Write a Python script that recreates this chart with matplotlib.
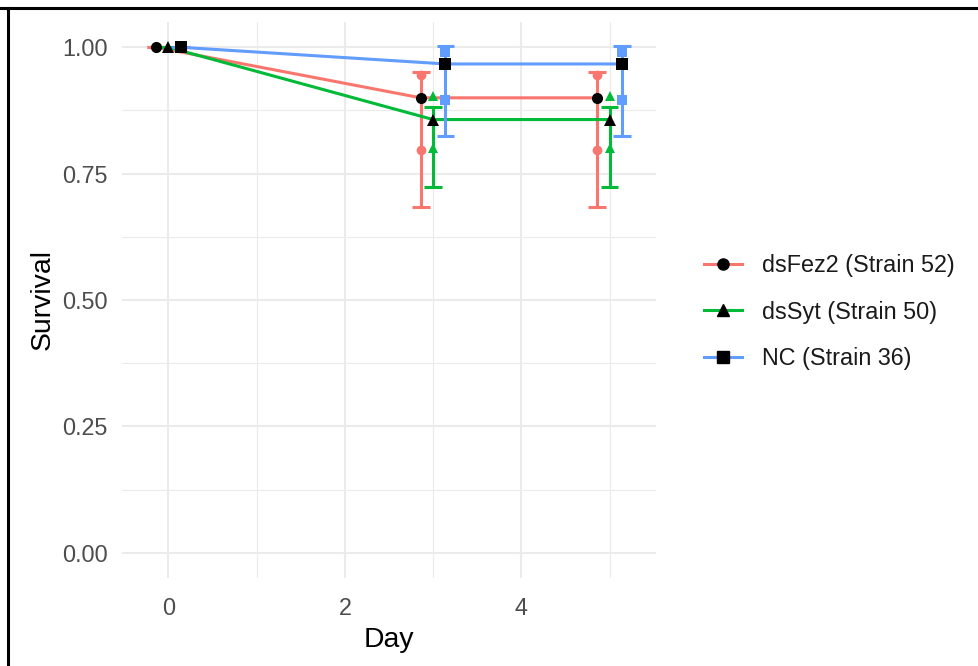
import matplotlib
matplotlib.use("Agg")
import matplotlib.pyplot as plt
from matplotlib.lines import Line2D
import numpy as np

plt.rcParams['font.family'] = ['Liberation Sans', 'DejaVu Sans']

# ---- data ----
days = [0, 3, 5]
series = ["dsFez2 (Strain 52)", "dsSyt (Strain 50)", "NC (Strain 36)"]
colors = ["#F8766D", "#00BA38", "#619CFF"]
shapes = ["o", "^", "s"]
mean_surv = {
    "dsFez2 (Strain 52)": [1.0, 0.900, 0.900],
    "dsSyt (Strain 50)": [1.0, 0.857, 0.857],
    "NC (Strain 36)": [1.0, 0.967, 0.967],
}
lower_ci = {
    "dsFez2 (Strain 52)": [1.0, 0.684, 0.684],
    "dsSyt (Strain 50)": [1.0, 0.724, 0.724],
    "NC (Strain 36)": [1.0, 0.824, 0.824],
}
upper_ci = {
    "dsFez2 (Strain 52)": [1.0, 0.951, 0.951],
    "dsSyt (Strain 50)": [1.0, 0.882, 0.882],
    "NC (Strain 36)": [1.0, 1.002, 1.002],
}
# replicate observations (day, value)
rep_days = [0, 0, 3, 3, 5, 5]
replicates = {
    "dsFez2 (Strain 52)": [1.0, 1.0, 0.945, 0.797, 0.945, 0.797],
    "dsSyt (Strain 50)": [1.0, 1.0, 0.903, 0.800, 0.903, 0.800],
    "NC (Strain 36)": [1.0, 1.0, 0.990, 0.895, 0.990, 0.895],
}
dodge = [-0.14, 0.0, 0.14]
cap_half = 0.1

xticks = [0, 2, 4]
yticks = [0.00, 0.25, 0.50, 0.75, 1.00]
ytick_labels = ["0.00", "0.25", "0.50", "0.75", "1.00"]

# ---- figure ----
fig = plt.figure(figsize=(9.79, 6.66), dpi=100)
ax = fig.add_axes([122/979, 1 - 578/666, (656-122)/979, (578-22)/666])

grid_c = "#EBEBEB"
for x in [1, 3, 5]:
    ax.axvline(x, color=grid_c, lw=0.8, zorder=0)
for y in [0.125, 0.375, 0.625, 0.875]:
    ax.axhline(y, color=grid_c, lw=0.8, zorder=0)
for x in xticks:
    ax.axvline(x, color=grid_c, lw=1.5, zorder=0)
for y in yticks:
    ax.axhline(y, color=grid_c, lw=1.5, zorder=0)

lw = 2.2
for i, s in enumerate(series):
    xs = np.array(days) + dodge[i]
    ax.plot(xs, mean_surv[s], color=colors[i], lw=lw, zorder=2, solid_capstyle='butt')
    for x, lo, hi in zip(xs, lower_ci[s], upper_ci[s]):
        ax.plot([x, x], [lo, hi], color=colors[i], lw=lw, zorder=2, solid_capstyle='butt')
        ax.plot([x - cap_half, x + cap_half], [lo, lo], color=colors[i], lw=lw, zorder=2, solid_capstyle='butt')
        ax.plot([x - cap_half, x + cap_half], [hi, hi], color=colors[i], lw=lw, zorder=2, solid_capstyle='butt')
    rx = np.array(rep_days) + dodge[i]
    ax.plot(rx, replicates[s], linestyle='none', marker=shapes[i], color=colors[i],
            markersize=7, markeredgewidth=0, zorder=3)
for i, s in enumerate(series):
    xs = np.array(days) + dodge[i]
    ax.plot(xs, mean_surv[s], linestyle='none', marker=shapes[i], color='black',
            markersize=8, markeredgewidth=0, zorder=4)

ax.set_xlim(-0.525, 5.525)
ax.set_ylim(-0.05, 1.05)
ax.set_xticks(xticks)
ax.set_xticklabels([str(t) for t in xticks])
ax.set_yticks(yticks)
ax.set_yticklabels(ytick_labels)
ax.tick_params(axis='both', length=0, labelsize=16.8, labelcolor="#4D4D4D")
ax.tick_params(axis='y', pad=10.5)
ax.tick_params(axis='x', pad=14)
for sp in ax.spines.values():
    sp.set_visible(False)
ax.set_xlabel("Day", fontsize=20.4, color="black", labelpad=5)
ax.set_ylabel("Survival", fontsize=20.4, color="black", labelpad=4.5)

handles = [Line2D([0], [0], color=colors[i], lw=lw, marker=shapes[i],
                  markerfacecolor='black', markeredgecolor='black', markersize=8)
           for i in range(3)]
leg = fig.legend(handles, series, loc='center left', bbox_to_anchor=(0.698, 1 - 312/666),
                 frameon=False, fontsize=16.8, handlelength=1.6, handletextpad=0.85,
                 labelspacing=1.0)
for t in leg.get_texts():
    t.set_color("#1A1A1A")

# outer border (top and left)
fig.add_artist(Line2D([0, 1], [1 - 8/666, 1 - 8/666], color='black', lw=2.2, transform=fig.transFigure))
fig.add_artist(Line2D([8.5/979, 8.5/979], [0, 1 - 8/666], color='black', lw=2.2, transform=fig.transFigure))

fig.savefig("out.png", dpi=100)
